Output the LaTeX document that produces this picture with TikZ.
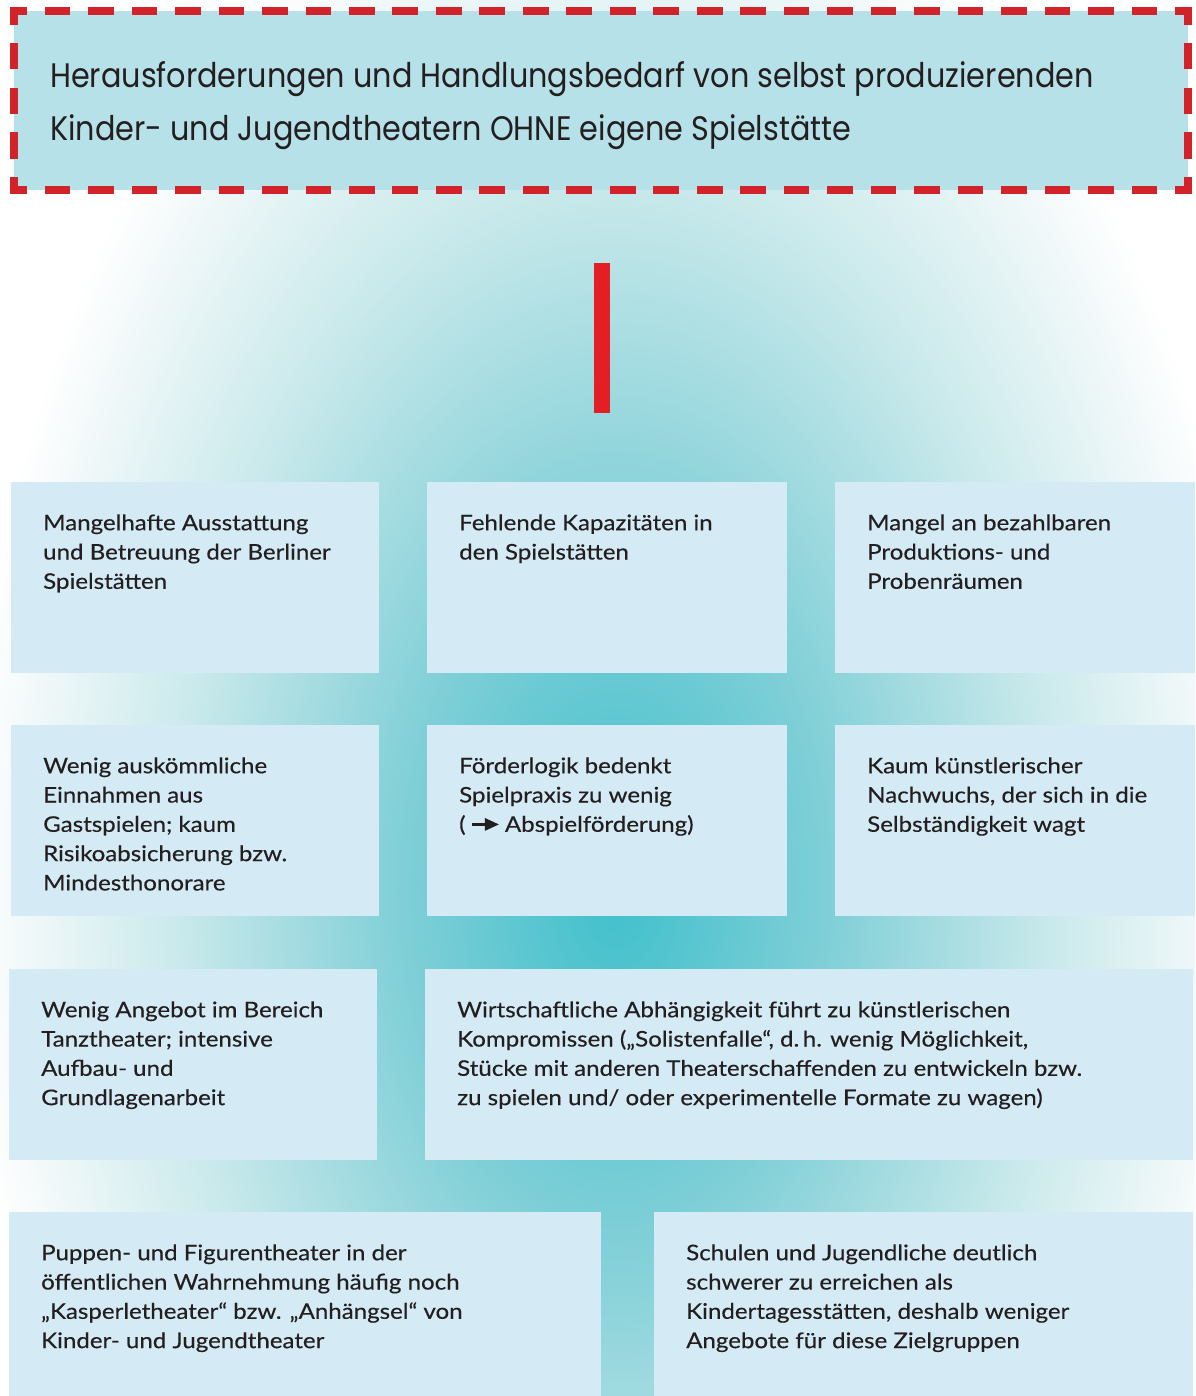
\documentclass[tikz,border=0pt]{standalone}
\usepackage{fontspec}
\setmainfont[FakeStretch=1.12,FakeBold=0.35]{Lato}
\newfontfamily\titlefont[FakeStretch=0.89]{Poppins}
\definecolor{txt}{HTML}{231F20}
\definecolor{titlefill}{HTML}{B7E1E8}
\definecolor{dashred}{HTML}{D2232A}
\definecolor{barred}{HTML}{E31E24}
\definecolor{boxfill}{HTML}{D4EAF4}
\definecolor{g0}{HTML}{40C0CC}
\definecolor{g1}{HTML}{80CFD7}
\definecolor{g2}{HTML}{C9E9EB}
\definecolor{g3}{HTML}{F3F9FA}
\pgfdeclareradialshading{glow}{\pgfpoint{0bp}{0bp}}{color(0bp)=(g0); color(8.25bp)=(g1); color(16.75bp)=(g2); color(23bp)=(g3); color(25bp)=(white); color(50bp)=(white)}
\newcommand{\arrowglyph}{\tikz[baseline=0pt,x=1pt,y=1pt]{\fill[txt] (0,6.2) rectangle (15,8.6); \fill[txt] (13,0.9) -- (27,7.4) -- (13,13.9) -- cycle;}}
\tikzset{
  box/.style={fill=boxfill, inner sep=0pt, anchor=north west, draw=none},
  body/.style={font=\fontsize{21.5}{29.3}\selectfont, text=txt, align=left, anchor=north west, inner sep=0pt},
  ttl/.style={font=\titlefont\fontsize{34}{53}\selectfont, text=txt, align=left, anchor=north west, inner sep=0pt},
  hdash/.style={dashred, line width=8pt, line cap=rect, dash pattern=on 17.69pt off 25.79pt, dash phase=8.85pt},
  vdash/.style={dashred, line width=8pt, line cap=rect, dash pattern=on 18.37pt off 26.26pt, dash phase=9.18pt}
}
\begin{document}
\begin{tikzpicture}[x=1pt,y=-1pt]
\useasboundingbox (0,0) rectangle (1195,1396);
\fill[white] (0,0) rectangle (1195,1396);
\begin{scope}
\clip (0,0) rectangle (1195,1396);
\shade[shading=glow] (615,890) ellipse [x radius=650pt, y radius=1060pt];
\end{scope}
% title frame
\coordinate (tl) at (14,11.5);
\coordinate (tr) at (1188,11.5);
\coordinate (br) at (1188,190);
\coordinate (bl) at (14,190);
\fill[titlefill] (tl) rectangle (br);
\draw[hdash] (tl) -- (tr);
\draw[hdash] (bl) -- (br);
\draw[vdash] (tl) -- (bl);
\draw[vdash] (tr) -- (br);
\node[ttl] (title) at (50,49.9) {\strut Herausforderungen und Handlungsbedarf von selbst produzierenden\\Kinder- und Jugendtheatern OHNE eigene Spielstätte};
% bar
\coordinate (bartop) at (602,263);
\coordinate (barbot) at (602,413);
\draw[barred, line width=16pt] (bartop) -- (barbot);
% boxes
\node[box, minimum width=368pt, minimum height=191pt] (b1) at (11,482) {};
\node[box, minimum width=360pt, minimum height=191pt] (b2) at (427,482) {};
\node[box, minimum width=360pt, minimum height=191pt] (b3) at (835,482) {};
\node[box, minimum width=368pt, minimum height=191pt] (b4) at (11,725) {};
\node[box, minimum width=360pt, minimum height=191pt] (b5) at (427,725) {};
\node[box, minimum width=360pt, minimum height=191pt] (b6) at (835,725) {};
\node[box, minimum width=368pt, minimum height=191pt] (b7) at (9,969) {};
\node[box, minimum width=768pt, minimum height=191pt] (b8) at (425,969) {};
\node[box, minimum width=592pt, minimum height=184pt] (b9) at (9,1212) {};
\node[box, minimum width=539pt, minimum height=184pt] (b10) at (654,1212) {};
% texts
\node[body] (t1) at ([xshift=32pt,yshift=-27.5pt]b1.north west) {\strut Mangelhafte Ausstattung\\und Betreuung der Berliner\\Spielstätten};
\node[body] (t2) at ([xshift=32pt,yshift=-27.5pt]b2.north west) {\strut Fehlende Kapazitäten in\\den Spielstätten};
\node[body] (t3) at ([xshift=32pt,yshift=-27.5pt]b3.north west) {\strut Mangel an bezahlbaren\\Produktions- und\\Probenräumen};
\node[body] (t4) at ([xshift=32pt,yshift=-27.5pt]b4.north west) {\strut Wenig auskömmliche\\Einnahmen aus\\Gastspielen; kaum\\Risikoabsicherung bzw.\\Mindesthonorare};
\node[body] (t5) at ([xshift=32pt,yshift=-27.5pt]b5.north west) {\strut Förderlogik bedenkt\\Spielpraxis zu wenig\\( \arrowglyph{} Abspielförderung)};
\node[body] (t6) at ([xshift=32pt,yshift=-27.5pt]b6.north west) {\strut Kaum künstlerischer\\Nachwuchs, der sich in die\\Selbständigkeit wagt};
\node[body] (t7) at ([xshift=32pt,yshift=-27.5pt]b7.north west) {\strut Wenig Angebot im Bereich\\Tanztheater; intensive\\Aufbau- und\\Grundlagenarbeit};
\node[body] (t8) at ([xshift=32pt,yshift=-27.5pt]b8.north west) {\strut Wirtschaftliche Abhängigkeit führt zu künstlerischen\\Kompromissen („Solistenfalle“, d.\,h. wenig Möglichkeit,\\Stücke mit anderen Theaterschaffenden zu entwickeln bzw.\\zu spielen und/ oder experimentelle Formate zu wagen)};
\node[body] (t9) at ([xshift=32pt,yshift=-27.5pt]b9.north west) {\strut Puppen- und Figurentheater in der\\öffentlichen Wahrnehmung häufig noch\\„Kasperletheater“ bzw. „Anhängsel“ von\\Kinder- und Jugendtheater};
\node[body] (t10) at ([xshift=32pt,yshift=-27.5pt]b10.north west) {\strut Schulen und Jugendliche deutlich\\schwerer zu erreichen als\\Kindertagesstätten, deshalb weniger\\Angebote für diese Zielgruppen};
\end{tikzpicture}
\end{document}
